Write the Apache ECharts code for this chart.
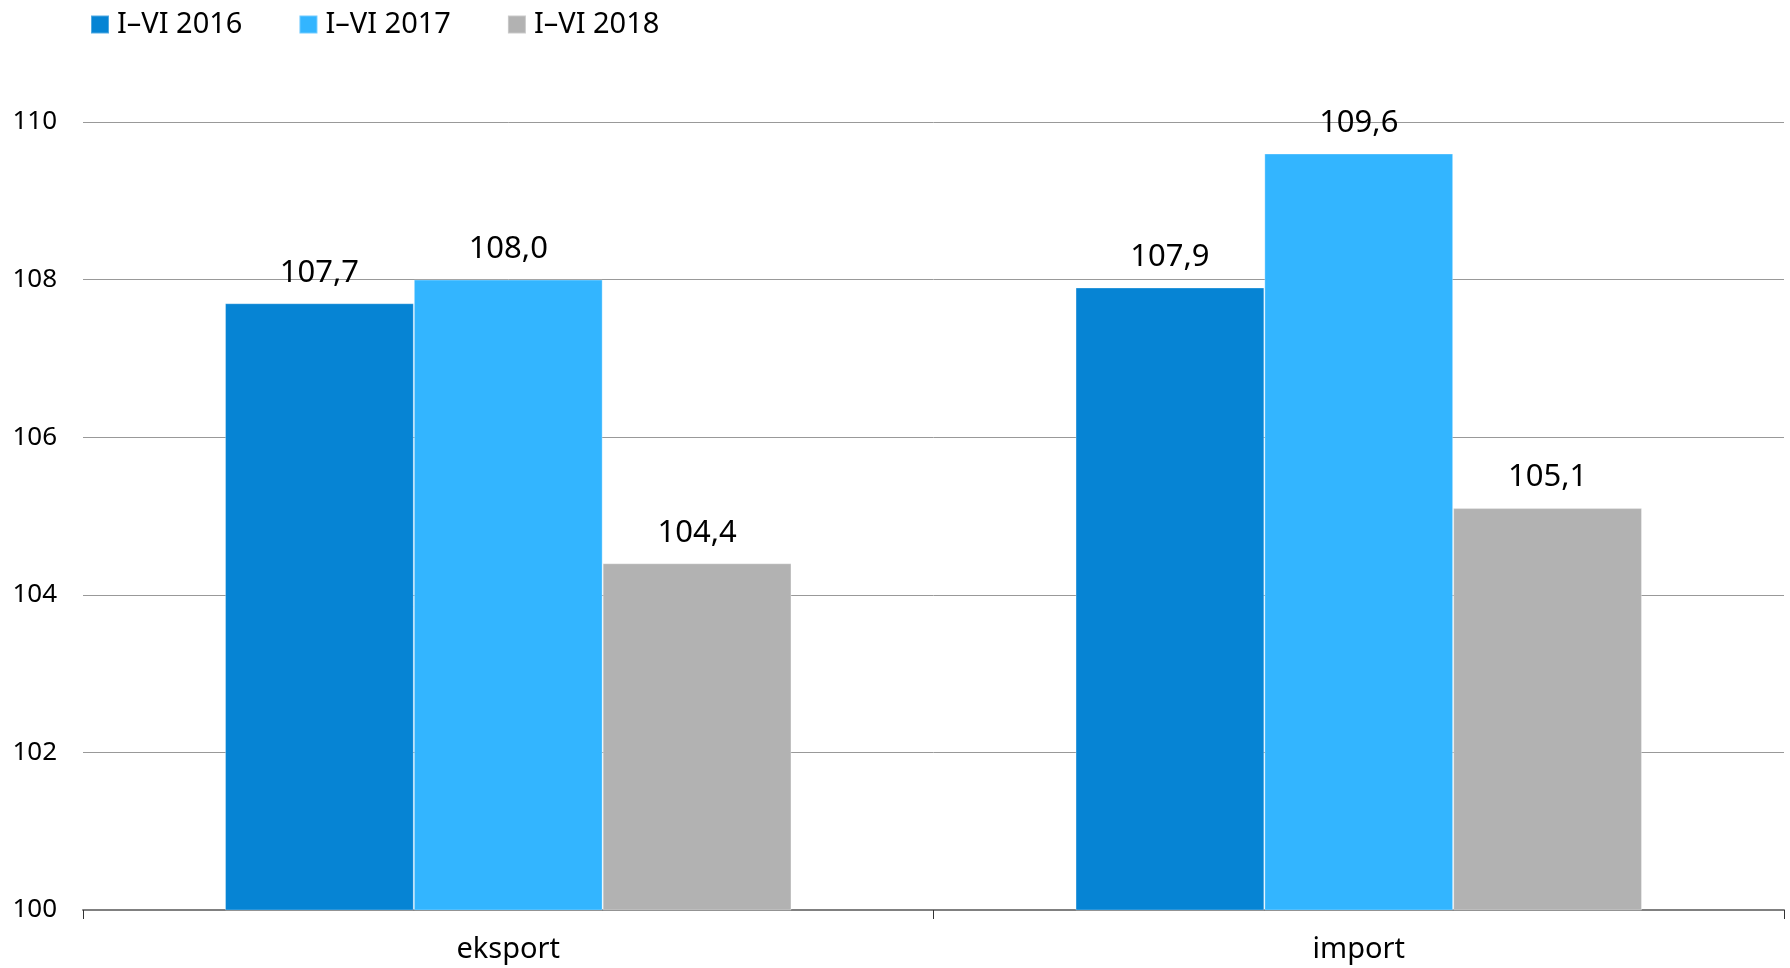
<!DOCTYPE html>
<html><head><meta charset="utf-8">
<script src="https://cdn.jsdelivr.net/npm/echarts@6/dist/echarts.min.js"></script>
<style>html,body{margin:0;padding:0;background:#fff}#c{width:1790px;height:968px}</style>
</head><body><div id="c"></div>
<script>
const categories = ['eksport', 'import'];
const seriesNames = ['I–VI 2016', 'I–VI 2017', 'I–VI 2018'];
const v2016 = [107.7, 107.9];
const v2017 = [108.0, 109.6];
const v2018 = [104.4, 105.1];
const colors = ['#0684d4', '#33b5ff', '#b2b2b2'];
const font = '"Noto Sans", sans-serif';
const chart = echarts.init(document.getElementById('c'));
const mk = (name, data, i) => ({
  name, type: 'bar', data, barGap: '0%', barCategoryGap: '33.4%',
  itemStyle: { color: colors[i], borderColor: 'rgba(255,255,255,0.3)', borderWidth: 1 },
  label: { show: true, position: 'top', distance: 15, color: '#000', fontFamily: font, fontSize: 31,
    formatter: p => p.value.toFixed(1).replace('.', ',') }
});
chart.setOption({
  animation: false,
  color: colors,
  legend: { left: 85, top: 5, itemWidth: 18, itemHeight: 18, itemGap: 56, icon: 'rect',
    textStyle: { fontFamily: font, fontSize: 29, color: '#000', padding: [0, 0, 0, 3] },
    data: seriesNames },
  grid: { left: 83, right: 6, top: 122, bottom: 58, containLabel: false },
  xAxis: { type: 'category', data: categories,
    axisLine: { lineStyle: { color: '#808080', width: 2 } },
    axisTick: { show: true, length: 9, lineStyle: { color: '#333' } },
    axisLabel: { color: '#000', fontFamily: font, fontSize: 29, margin: 25 } },
  yAxis: { type: 'value', min: 100, max: 110, interval: 2,
    axisLine: { show: false }, axisTick: { show: false },
    splitLine: { lineStyle: { color: '#999', width: 1 } },
    axisLabel: { color: '#000', fontFamily: font, fontSize: 26, margin: 26 } },
  series: [mk(seriesNames[0], v2016, 0), mk(seriesNames[1], v2017, 1), mk(seriesNames[2], v2018, 2)]
});
</script></body></html>
